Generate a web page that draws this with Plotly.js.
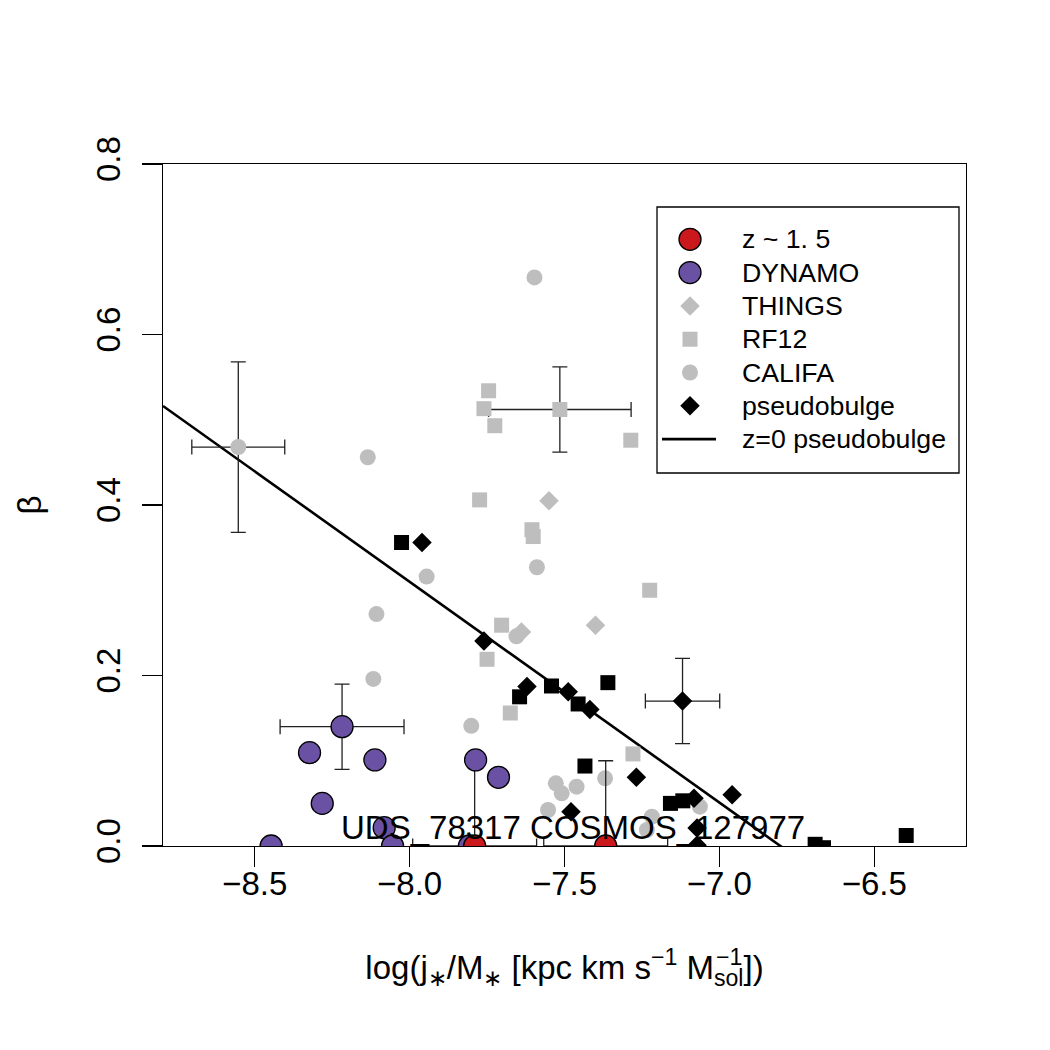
<!DOCTYPE html>
<html>
<head>
<meta charset="utf-8">
<script src="https://cdn.plot.ly/plotly-3.0.1.min.js"></script>
<style>html,body{margin:0;padding:0;background:#fff}</style>
</head>
<body>
<div id="chart" style="width:1050px;height:1050px"></div>
<script>
// ---- data: log(j*/M*) vs beta ----
// z ~ 1.5 galaxies
const zX = [-7.790, -7.367];
const zY = [0.000, 0.000];
const zErrX = [0.20, 0.20];
const zErrY = [0.10, 0.10];
const zLabel = 'UDS_78317 COSMOS_127977';
const zLabelX = -7.474, zLabelY = 0.022;

// DYNAMO (first point carries the typical uncertainty)
const dynX = [-8.218, -8.323, -8.112, -7.787, -7.713, -8.282, -8.082, -8.055, -8.447, -7.807];
const dynY = [0.140, 0.1095, 0.101, 0.101, 0.0806, 0.050, 0.0215, 0.000, 0.000, 0.000];
const dynErrX = [0.20];
const dynErrY = [0.05];

// THINGS
const thX = [-7.550, -7.639, -7.400];
const thY = [0.405, 0.251, 0.259];

// RF12 (first point carries the typical uncertainty)
const rfX = [-7.515, -7.745, -7.760, -7.725, -7.286, -7.774, -7.605, -7.601, -7.225, -7.703, -7.750, -7.675, -7.279];
const rfY = [0.512, 0.534, 0.513, 0.493, 0.476, 0.406, 0.371, 0.363, 0.300, 0.259, 0.219, 0.156, 0.108];
const rfErrX = [0.23];
const rfErrY = [0.05];

// CALIFA (first point carries the typical uncertainty)
const caX = [-8.553, -7.597, -8.135, -7.945, -7.589, -8.107, -7.655, -8.117, -7.801, -7.528, -7.509, -7.461, -7.553, -7.369, -7.218, -7.234, -7.063];
const caY = [0.468, 0.667, 0.456, 0.316, 0.327, 0.272, 0.246, 0.196, 0.141, 0.0735, 0.0618, 0.0696, 0.0422, 0.0794, 0.0344, 0.0188, 0.0461];
const caErrX = [0.15];
const caErrY = [0.10];

// pseudobulges (diamonds; first point carries the typical uncertainty)
const pbX = [-7.119, -7.960, -7.760, -7.621, -7.488, -7.418, -7.268, -7.479, -7.082, -6.959, -7.072, -7.072];
const pbY = [0.170, 0.356, 0.2405, 0.187, 0.181, 0.160, 0.0806, 0.0403, 0.056, 0.060, 0.021, 0.001];
const pbErrX = [0.12];
const pbErrY = [0.05];

// pseudobulges (RF12 sample, squares)
const pbsX = [-8.026, -7.645, -7.542, -7.456, -7.360, -7.434, -7.158, -7.118, -6.691, -6.664, -6.397];
const pbsY = [0.356, 0.175, 0.1877, 0.1666, 0.1916, 0.0938, 0.050, 0.053, 0.002, -0.002, 0.0123];

// z = 0 pseudobulge relation: beta = a + b * log(j/M)
const fitA = -1.762, fitB = -0.259;

// legend labels
const legendLabels = ['z ~ 1. 5', 'DYNAMO', 'THINGS', 'RF12', 'CALIFA', 'pseudobulge', 'z=0 pseudobulge'];

// ---- styles ----
const FONT = 'Liberation Sans, Arial, Helvetica, sans-serif';
const GREY = '#bebebe';
const RED = '#cb181d';
const PURPLE = '#6a51a3';
const ERRC = '#222222';

const sty = {
  red:    {symbol: 'circle', size: 22, color: RED, line: {color: '#000', width: 1.3}},
  purple: {symbol: 'circle', size: 22, color: PURPLE, line: {color: '#000', width: 1.3}},
  gdiam:  {symbol: 'diamond', size: 15, color: GREY, line: {width: 0}},
  gsq:    {symbol: 'square', size: 15, color: GREY, line: {width: 0}},
  gcirc:  {symbol: 'circle', size: 16, color: GREY, line: {width: 0}},
  bdiam:  {symbol: 'diamond', size: 15, color: '#000', line: {width: 0}},
  bsq:    {symbol: 'square', size: 15, color: '#000', line: {width: 0}}
};

function errs(arr) {
  return {type: 'data', array: arr, symmetric: true, color: ERRC, thickness: 1.3, width: 7.5};
}

const xRange = [-8.796, -6.204];
const yRange = [0, 0.8];

const fitX = xRange.slice();
const fitY = fitX.map(v => fitA + fitB * v);

const traces = [
  {x: fitX, y: fitY, mode: 'lines', line: {color: '#000', width: 2.6}, name: 'z=0 pseudobulge', hoverinfo: 'skip'},
  {x: rfX, y: rfY, mode: 'markers', marker: sty.gsq, name: 'RF12', error_x: errs(rfErrX), error_y: errs(rfErrY)},
  {x: thX, y: thY, mode: 'markers', marker: sty.gdiam, name: 'THINGS'},
  {x: caX, y: caY, mode: 'markers', marker: sty.gcirc, name: 'CALIFA', error_x: errs(caErrX), error_y: errs(caErrY)},
  {x: pbsX, y: pbsY, mode: 'markers', marker: sty.bsq, name: 'pseudobulge (RF12)'},
  {x: pbX, y: pbY, mode: 'markers', marker: sty.bdiam, name: 'pseudobulge', error_x: errs(pbErrX), error_y: errs(pbErrY)},
  // error bars of the z~1.5 objects sit beneath the DYNAMO points
  {x: zX, y: zY, mode: 'markers', marker: {size: 1, color: 'rgba(0,0,0,0)'}, name: 'z ~ 1.5 errors',
   error_x: errs(zErrX), error_y: errs(zErrY), hoverinfo: 'skip'},
  {x: dynX, y: dynY, mode: 'markers', marker: sty.purple, name: 'DYNAMO', error_x: errs(dynErrX), error_y: errs(dynErrY)},
  {x: zX, y: zY, mode: 'markers', marker: sty.red, name: 'z ~ 1.5'}
];
traces.forEach(t => { t.showlegend = false; t.cliponaxis = true; });

// ---- hand-built legend (pixel layout of the box) ----
const PLOT = {l: 163, t: 164, w: 803, h: 682};
const fx = px => (px - PLOT.l) / PLOT.w;
const fy = py => (PLOT.t + PLOT.h - py) / PLOT.h;
const LEG = {left: 657, top: 207, right: 959, bottom: 473, keyX: 690, textX: 740, row0: 239.3, step: 33.3};
const rowY = i => LEG.row0 + i * LEG.step;
const keyStyles = [sty.red, sty.purple, sty.gdiam, sty.gsq, sty.gcirc, sty.bdiam];
keyStyles.forEach((m, i) => {
  traces.push({x: [fx(LEG.keyX)], y: [fy(rowY(i))], xaxis: 'x2', yaxis: 'y2', mode: 'markers',
    marker: m, showlegend: false, hoverinfo: 'skip', cliponaxis: false});
});

const annotations = legendLabels.map((s, i) => ({
  xref: 'paper', yref: 'paper', x: fx(LEG.textX), y: fy(rowY(i)), xanchor: 'left', yanchor: 'middle',
  text: s, showarrow: false, font: {family: FONT, size: 26.7, color: '#000'}
}));
annotations.push({
  xref: 'x', yref: 'y', x: zLabelX, y: zLabelY, xanchor: 'center', yanchor: 'middle',
  text: zLabel, showarrow: false, font: {family: FONT, size: 33, color: '#000'}
});

const shapes = [
  {type: 'rect', xref: 'paper', yref: 'paper', x0: fx(LEG.left), x1: fx(LEG.right), y0: fy(LEG.bottom), y1: fy(LEG.top),
   line: {color: '#000', width: 1.3}, fillcolor: 'rgba(0,0,0,0)'},
  {type: 'line', xref: 'paper', yref: 'paper', x0: fx(662), x1: fx(716), y0: fy(rowY(6)), y1: fy(rowY(6)),
   line: {color: '#000', width: 2.6}}
];

const axisCommon = {
  showgrid: false, zeroline: false, showline: true, mirror: true, linecolor: '#000', linewidth: 1.3,
  ticks: 'outside', ticklen: 20, tickwidth: 1.3, tickcolor: '#000',
  tickfont: {family: FONT, size: 33, color: '#000'}, automargin: false
};

const TITLE_FONT = {family: FONT, size: 33, color: '#000'};

const layout = {
  width: 1050, height: 1050, autosize: false,
  margin: {l: PLOT.l, r: 1050 - PLOT.l - PLOT.w, t: PLOT.t, b: 1050 - PLOT.t - PLOT.h, pad: 0},
  paper_bgcolor: '#fff', plot_bgcolor: '#fff',
  font: {family: FONT, color: '#000'},
  showlegend: false,
  xaxis: Object.assign({}, axisCommon, {
    range: xRange, tickmode: 'array', tickvals: [-8.5, -8.0, -7.5, -7.0, -6.5], tickformat: '.1f',
    ticklabelstandoff: -12,
    title: {text: 'log(j<sub>∗</sub>/M<sub>∗</sub> [kpc km s<sup>−1</sup> M<sub>sol</sub>])',
            font: TITLE_FONT, standoff: 55}
  }),
  yaxis: Object.assign({}, axisCommon, {
    range: yRange, tickmode: 'array', tickvals: [0, 0.2, 0.4, 0.6, 0.8], tickformat: '.1f', tickangle: -90,
    ticklabelstandoff: 9,
    title: {text: 'β', font: TITLE_FONT, standoff: 38}
  }),
  xaxis2: {overlaying: 'x', range: [0, 1], visible: false, fixedrange: true},
  yaxis2: {overlaying: 'y', range: [0, 1], visible: false, fixedrange: true},
  annotations: annotations,
  shapes: shapes
};

Plotly.newPlot('chart', traces, layout, {displayModeBar: false, staticPlot: true}).then(gd => {
  // stack the "−1" exponent above the "sol" subscript of M
  const title = gd.querySelector('.g-xtitle text');
  if (!title) return;
  const spans = Array.from(title.querySelectorAll('tspan'));
  const sol = spans.find(s => s.textContent === 'sol');
  const sup = spans.find(s => s.textContent === '−1');
  if (!sol || !sup) return;
  const box = gd.getBoundingClientRect();
  const rs = sol.getBoundingClientRect();
  const rp = sup.getBoundingClientRect();
  const ann = gd.layout.annotations.slice();
  ann.push({
    xref: 'paper', yref: 'paper', x: fx(rs.left - box.left), y: fy((rp.top + rp.bottom) / 2 - box.top),
    xanchor: 'left', yanchor: 'middle', text: '−1', showarrow: false,
    font: {family: FONT, size: 33 * 0.7, color: '#000'}
  });
  return Plotly.relayout(gd, {annotations: ann});
});
</script>
</body>
</html>
